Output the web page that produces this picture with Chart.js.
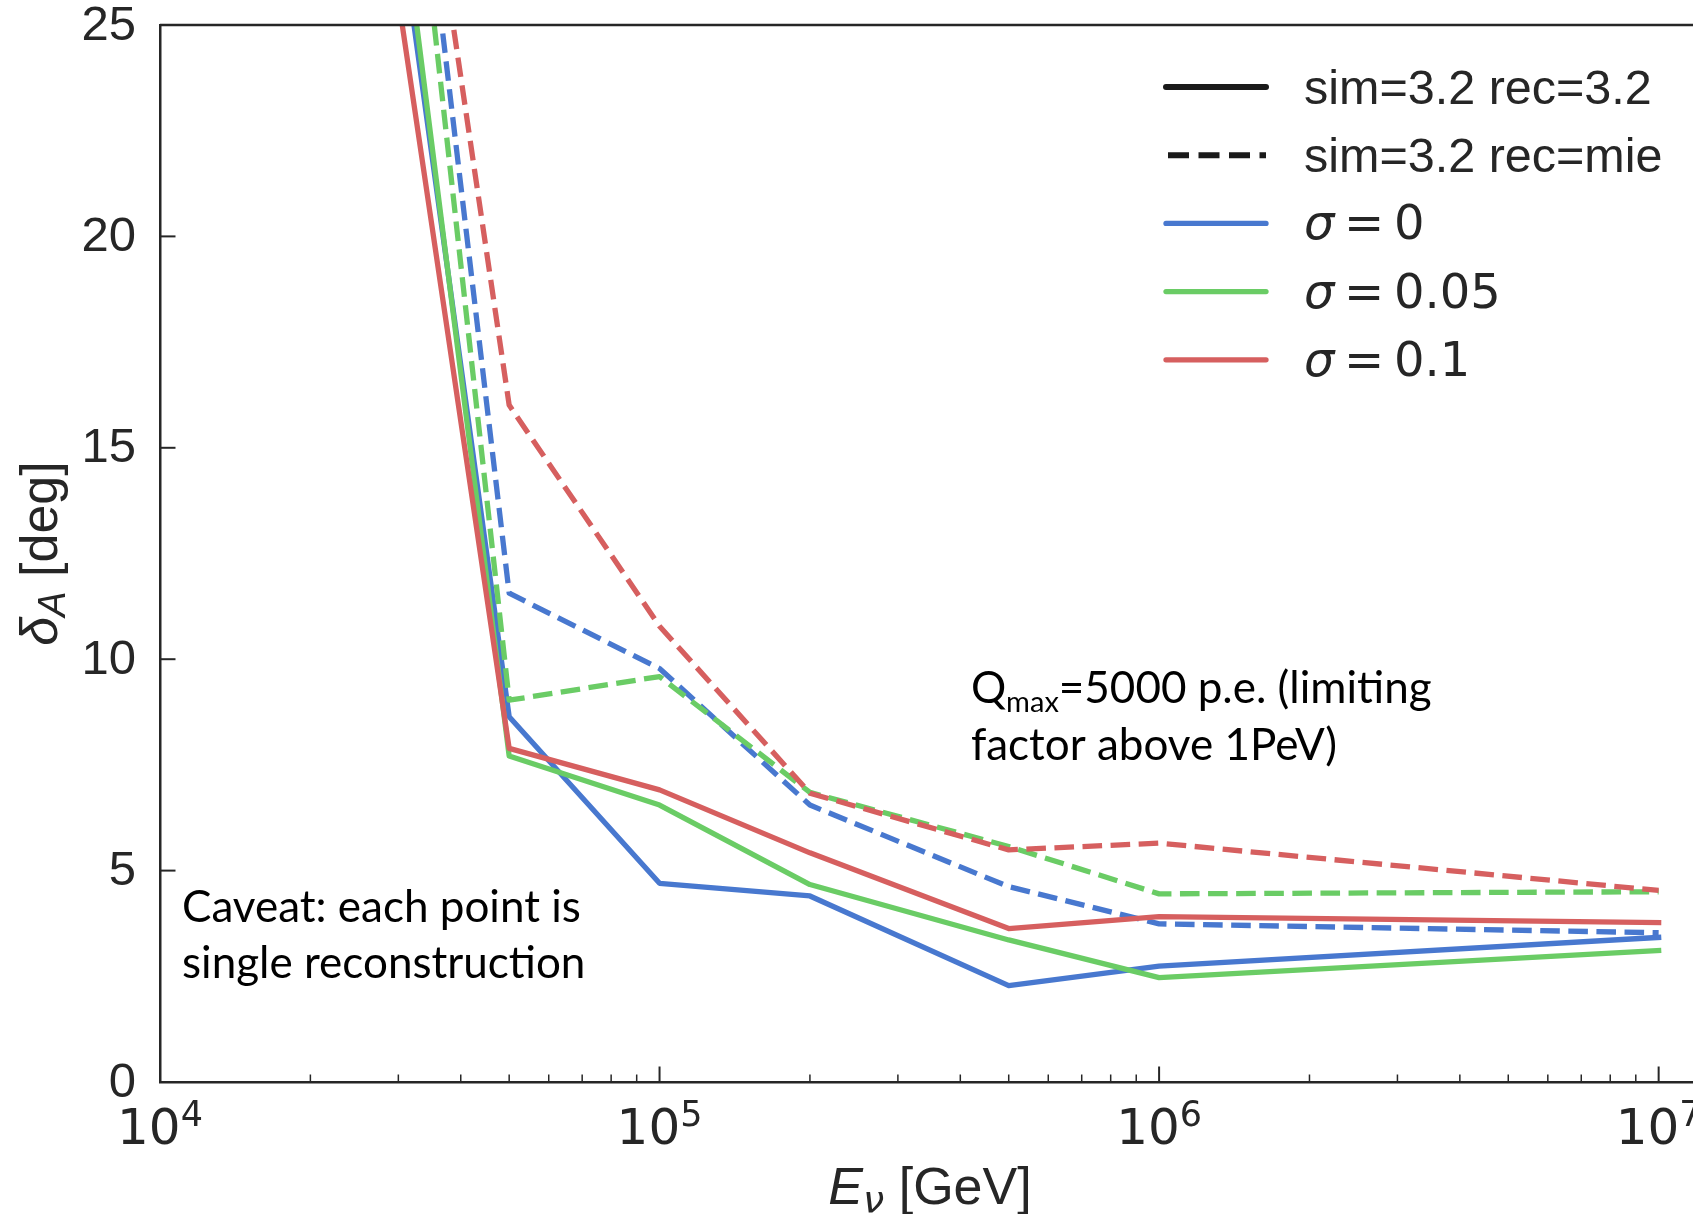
<!DOCTYPE html>
<html>
<head>
<meta charset="utf-8">
<script src="https://cdn.jsdelivr.net/npm/chart.js@4.4.1/dist/chart.umd.min.js"></script>
<style>
  html, body { margin: 0; padding: 0; overflow: hidden; background: #fff; }
  canvas { display: block; }
</style>
</head>
<body>
<canvas id="resolutionChart" width="1700" height="1214"></canvas>
<script>
// energies in GeV
const energies = [2e4, 5e4, 1e5, 2e5, 5e5, 1e6, 1e7];

// sim=3.2 rec=3.2 (solid)
const recSame0 = [42.8, 8.64, 4.70, 4.40, 2.28, 2.74, 3.42];
const recSame005 = [44.9, 7.71, 6.55, 4.67, 3.36, 2.47, 3.11];
const recSame01 = [39.7, 7.89, 6.91, 5.42, 3.63, 3.91, 3.77];

// sim=3.2 rec=mie (dashed)
const recMie0 = [51.2, 11.56, 9.78, 6.55, 4.62, 3.74, 3.53];
const recMie005 = [51.4, 9.03, 9.59, 6.85, 5.57, 4.45, 4.50];
const recMie01 = [47.9, 16.01, 10.78, 6.83, 5.49, 5.65, 4.53];

const sigmaLabels = ["0", "0.05", "0.1"];
const styleLabels = ["sim=3.2 rec=3.2", "sim=3.2 rec=mie"];
const xTickExponents = [4, 5, 6, 7];
const yTicks = [0, 5, 10, 15, 20, 25];

const colors = ["#4878CF", "#6ACC65", "#D65F5F"];
const ink = "#262626";
const lineW = 5.3;
const dash = [19.6, 8.5];

function points(values) {
    return energies.map((e, i) => ({ x: e, y: values[i] }));
}

// draws a run of text pieces (font, vertical shift) starting at x
function drawRich(ctx, parts, x, y, align) {
    let total = 0;
    parts.forEach(p => {
        ctx.font = p.font;
        p.w = ctx.measureText(p.t).width;
        total += p.w;
    });
    let cx = align === "center" ? x - total / 2 : x;
    ctx.textAlign = "left";
    ctx.textBaseline = "alphabetic";
    parts.forEach(p => {
        ctx.font = p.font;
        ctx.fillText(p.t, cx, y + (p.dy || 0));
        cx += p.w;
    });
}

function strokeLine(ctx, x1, y1, x2, y2) {
    ctx.beginPath();
    ctx.moveTo(x1, y1);
    ctx.lineTo(x2, y2);
    ctx.stroke();
}

const decorations = {
    id: "decorations",
    afterDraw(chart) {
        const { ctx, chartArea, scales } = chart;
        const xs = scales.x;
        const ys = scales.y;
        const { left, right, top, bottom } = chartArea;

        ctx.save();
        ctx.strokeStyle = ink;
        ctx.fillStyle = ink;

        // top spine
        ctx.lineWidth = 2.5;
        strokeLine(ctx, left, top, right, top);

        // inward ticks
        ctx.lineWidth = 2;
        xTickExponents.forEach(p => {
            const px = xs.getPixelForValue(Math.pow(10, p));
            strokeLine(ctx, px, bottom, px, bottom - 15.5);
        });
        ctx.lineWidth = 1.5;
        for (let p = xTickExponents[0]; p < xTickExponents[xTickExponents.length - 1]; p++) {
            for (let m = 2; m <= 9; m++) {
                const px = xs.getPixelForValue(m * Math.pow(10, p));
                strokeLine(ctx, px, bottom, px, bottom - 7.5);
            }
        }
        ctx.lineWidth = 2;
        yTicks.forEach(v => {
            const py = ys.getPixelForValue(v);
            strokeLine(ctx, left, py, left + 15.5, py);
        });

        // y tick labels
        ctx.font = "49px 'Liberation Sans'";
        ctx.textAlign = "right";
        ctx.textBaseline = "middle";
        yTicks.forEach(v => {
            ctx.fillText(String(v), left - 24, ys.getPixelForValue(v) + 1);
        });

        // x tick labels 10^n
        xTickExponents.forEach(p => {
            const px = xs.getPixelForValue(Math.pow(10, p));
            ctx.font = "50px 'DejaVu Sans'";
            const wBase = ctx.measureText("10").width;
            ctx.font = "35px 'DejaVu Sans'";
            const wExp = ctx.measureText(String(p)).width;
            const x0 = px - (wBase + wExp) / 2;
            ctx.textAlign = "left";
            ctx.textBaseline = "alphabetic";
            ctx.font = "50px 'DejaVu Sans'";
            ctx.fillText("10", x0, bottom + 62);
            ctx.font = "35px 'DejaVu Sans'";
            ctx.fillText(String(p), x0 + wBase, bottom + 44);
        });

        // axis titles
        drawRich(ctx, [
            { t: "E", font: "italic 52px 'Liberation Sans'" },
            { t: "ν", font: "italic 38px 'DejaVu Sans'", dy: 8 },
            { t: " [GeV]", font: "52px 'Liberation Sans'" }
        ], (left + right) / 2, 1204, "center");

        ctx.save();
        ctx.translate(57, (top + bottom) / 2);
        ctx.rotate(-Math.PI / 2);
        drawRich(ctx, [
            { t: "δ", font: "italic 52px 'Liberation Sans'" },
            { t: "A", font: "italic 38px 'Liberation Sans'", dy: 8 },
            { t: " [deg]", font: "52px 'Liberation Sans'" }
        ], 0, 0, "center");
        ctx.restore();

        // legend
        const lx = right - 534;
        const ly = top + 62;
        const step = 68.2;
        for (let i = 0; i < 5; i++) {
            const y = ly + i * step;
            ctx.fillStyle = ink;
            ctx.textAlign = "left";
            ctx.textBaseline = "alphabetic";
            if (i < 2) {
                ctx.strokeStyle = "#1a1a1a";
                ctx.lineWidth = 6;
                ctx.lineCap = i === 0 ? "round" : "butt";
                ctx.setLineDash(i === 0 ? [] : [21, 9.5]);
                strokeLine(ctx, lx + (i === 0 ? 0 : 2), y, lx + 100, y);
                ctx.setLineDash([]);
                ctx.font = "48.5px 'Liberation Sans'";
                ctx.fillText(styleLabels[i], lx + 138, y + 17);
            } else {
                ctx.strokeStyle = colors[i - 2];
                ctx.lineWidth = 5.3;
                ctx.lineCap = "round";
                strokeLine(ctx, lx, y, lx + 100, y);
                ctx.font = "italic 48px 'DejaVu Sans'";
                ctx.fillText("σ", lx + 138, y + 16);
                ctx.font = "48px 'DejaVu Sans'";
                ctx.fillText("=", lx + 178, y + 16);
                ctx.fillText(sigmaLabels[i - 2], lx + 228, y + 16);
            }
        }

        // annotations
        ctx.fillStyle = "#000";
        const qx = xs.getPixelForValue(4.2e5);
        const qy = ys.getPixelForValue(8.96);
        drawRich(ctx, [
            { t: "Q", font: "44px Lato" },
            { t: "max", font: "29px Lato", dy: 9 },
            { t: "=5000 p.e. (limiting", font: "44px Lato" }
        ], qx, qy, "left");
        ctx.font = "44px Lato";
        ctx.fillText("factor above 1PeV)", qx, qy + 57);

        const cxp = xs.getPixelForValue(1.107e4);
        const cyp = ys.getPixelForValue(3.78);
        ctx.fillText("Caveat: each point is", cxp, cyp);
        ctx.fillText("single reconstruction", cxp, cyp + 56);

        ctx.restore();
    }
};

document.addEventListener("DOMContentLoaded", () => {
    drawChart();
});

function drawChart() {
    const ctx = document.getElementById("resolutionChart").getContext("2d");

    const series = [
        { data: recMie01, color: colors[2], dashed: true },
        { data: recSame01, color: colors[2], dashed: false },
        { data: recMie005, color: colors[1], dashed: true },
        { data: recSame005, color: colors[1], dashed: false },
        { data: recMie0, color: colors[0], dashed: true },
        { data: recSame0, color: colors[0], dashed: false }
    ];

    new Chart(ctx, {
        type: "line",
        data: {
            datasets: series.map(s => ({
                data: points(s.data),
                borderColor: s.color,
                borderWidth: lineW,
                borderDash: s.dashed ? dash : [],
                borderCapStyle: s.dashed ? "butt" : "square",
                borderJoinStyle: "round",
                pointRadius: 0,
                tension: 0,
                fill: false,
                clip: 0
            }))
        },
        options: {
            responsive: false,
            animation: false,
            layout: { padding: { top: 25, right: 0, bottom: 0, left: 0 } },
            plugins: {
                legend: { display: false },
                tooltip: { enabled: false }
            },
            scales: {
                x: {
                    type: "logarithmic",
                    min: 1e4,
                    max: 1.21e7,
                    bounds: "data",
                    ticks: { display: false },
                    grid: { display: false, drawTicks: false },
                    border: { display: true, color: ink, width: 2.5 },
                    afterFit: scale => { scale.height = 132; }
                },
                y: {
                    type: "linear",
                    min: 0,
                    max: 25,
                    ticks: { display: false, stepSize: 5 },
                    grid: { display: false, drawTicks: false },
                    border: { display: true, color: ink, width: 2.5 },
                    afterFit: scale => { scale.width = 160; }
                }
            }
        },
        plugins: [decorations]
    });
}
</script>
</body>
</html>
